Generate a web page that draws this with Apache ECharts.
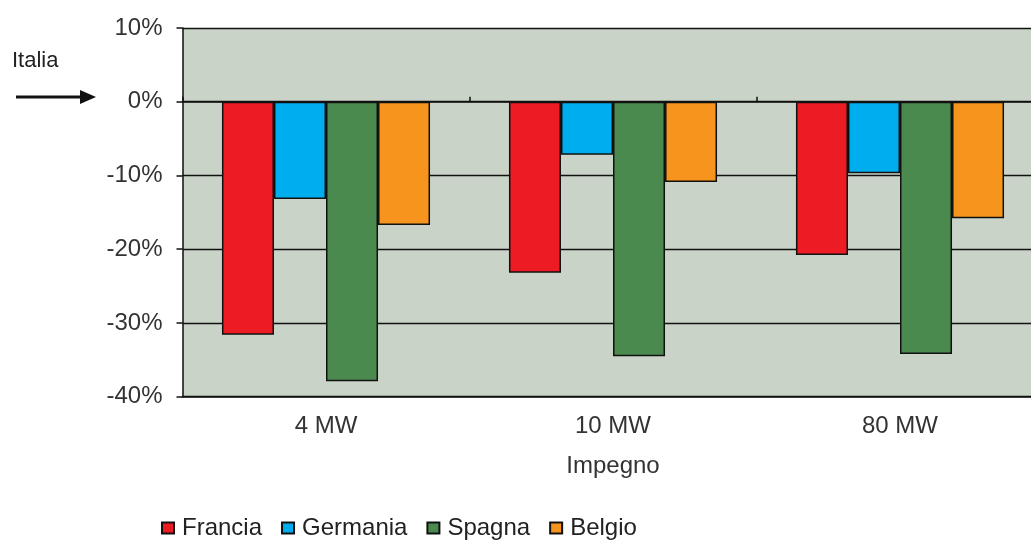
<!DOCTYPE html>
<html>
<head>
<meta charset="utf-8">
<script src="https://cdn.jsdelivr.net/npm/echarts@6/dist/echarts.min.js"></script>
<style>
  html, body { margin: 0; padding: 0; background: #ffffff; overflow: hidden; width: 1031px; height: 541px; }
  /* the plot runs slightly past the right edge of the page */
  #chart { width: 1045px; height: 541px; }
</style>
</head>
<body>
<div id="chart"></div>
<script>
// Price gap versus Italy (percent), by committed capacity
const categories = ['4 MW', '10 MW', '80 MW'];
const francia  = [-31.6, -23.2, -20.8];
const germania = [-13.2, -7.2, -9.7];
const spagna   = [-37.9, -34.5, -34.2];
const belgio   = [-16.7, -10.9, -15.8];
const seriesNames = ['Francia', 'Germania', 'Spagna', 'Belgio'];
const seriesColors = ['#ED1C24', '#00ADEF', '#4A8A4E', '#F7941D'];
const yMin = -40, yMax = 10, yStep = 10;

const FONT = 'Liberation Sans';
const chart = echarts.init(document.getElementById('chart'), null, { renderer: 'canvas' });

const values = [francia, germania, spagna, belgio];
const series = seriesNames.map((name, i) => ({
  name,
  type: 'bar',
  xAxisIndex: 0,
  data: values[i],
  barGap: '0%',
  barCategoryGap: '27.5%',
  itemStyle: { color: seriesColors[i], borderColor: '#111', borderWidth: 1.5 }
}));

chart.setOption({
  animation: false,
  textStyle: { fontFamily: FONT },
  grid: {
    left: 182.5, right: 1.5, top: 28, bottom: 144.3,
    show: true, backgroundColor: '#C9D3C7', borderWidth: 0
  },
  legend: {
    data: seriesNames,
    left: 161, top: 516,
    itemWidth: 12, itemHeight: 11, itemGap: 19, padding: 0,
    icon: 'rect',
    textStyle: { fontFamily: FONT, fontSize: 24, color: '#222', padding: [0, 0, 0, 3] }
  },
  xAxis: [
    {
      // category axis sitting on the 0% line, ticks pointing up
      type: 'category', data: categories, position: 'bottom',
      axisLine: { onZero: true, lineStyle: { color: '#111', width: 1.5 } },
      axisTick: { show: true, inside: true, length: 5, lineStyle: { color: '#111', width: 1.5 } },
      axisLabel: { show: false },
      splitLine: { show: false }
    },
    {
      // labels and title along the bottom edge of the plot
      type: 'category', data: categories, position: 'bottom',
      axisLine: { onZero: false, lineStyle: { color: '#111', width: 1.5 } },
      axisTick: { show: false },
      axisLabel: { fontFamily: FONT, fontSize: 24, color: '#333', margin: 18 },
      name: 'Impegno', nameLocation: 'middle', nameGap: 58,
      nameTextStyle: { fontFamily: FONT, fontSize: 24, color: '#333' }
    }
  ],
  yAxis: {
    type: 'value', min: yMin, max: yMax, interval: yStep,
    axisLine: { show: true, lineStyle: { color: '#111', width: 1.5 } },
    axisTick: { show: true, length: 6, lineStyle: { color: '#111', width: 1.5 } },
    axisLabel: { fontFamily: FONT, fontSize: 24, color: '#333', margin: 20, formatter: '{value}%' },
    splitLine: { show: true, lineStyle: { color: '#111', width: 1.3 } }
  },
  graphic: [
    {
      type: 'text', left: 12, top: 50,
      style: { text: 'Italia', fontFamily: FONT, fontSize: 22, fill: '#222' }
    },
    {
      type: 'line',
      shape: { x1: 16, y1: 97, x2: 82, y2: 97 },
      style: { stroke: '#111', lineWidth: 3 }
    },
    {
      type: 'polygon',
      shape: { points: [[80, 90], [96, 97], [80, 104]] },
      style: { fill: '#111' }
    }
  ],
  series
});
</script>
</body>
</html>
